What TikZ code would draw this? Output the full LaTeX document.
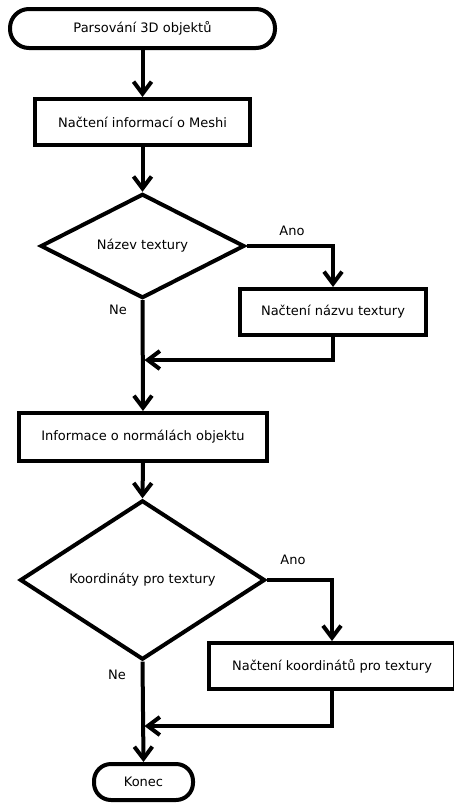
\documentclass[tikz,border=0pt]{standalone}
\usepackage{fontspec}
\setmainfont{DejaVu Sans}
\usetikzlibrary{shapes.geometric,arrows.meta}
\tikzset{
  every node/.style={font=\fontsize{13}{15}\selectfont},
  box/.style={draw,line width=4pt,rectangle,inner sep=0pt},
  term/.style={draw,line width=4pt,rectangle,inner sep=0pt},
  dec/.style={draw,line width=4pt,diamond,inner sep=0pt},
  conn/.style={line width=4pt,-{Straight Barb[length=12pt,width=18pt]}},
  lbl/.style={inner sep=0pt}
}
\begin{document}
\begin{tikzpicture}[x=1pt,y=-1pt]
\useasboundingbox (0,0) rectangle (454,803);
\node[term,minimum width=265pt,minimum height=39pt,rounded corners=19pt] (start) at (142.5,28.5) {Parsování 3D objektů};
\node[box,minimum width=215pt,minimum height=46pt] (b1) at (142.5,122) {Načtení informací o Meshi};
\node[dec,minimum width=204pt,minimum height=96pt] (d1) at (142.5,246) {Název textury};
\node[box,minimum width=186pt,minimum height=46pt] (b2) at (333,312) {Načtení názvu textury};
\node[box,minimum width=248pt,minimum height=48pt] (b3) at (143,437) {Informace o normálách objektu};
\node[dec,minimum width=245pt,minimum height=144pt] (d2) at (142.5,580) {Koordináty pro textury};
\node[box,minimum width=246pt,minimum height=46pt] (b4) at (332,666) {Načtení koordinátů pro textury};
\node[term,minimum width=99pt,minimum height=36pt,rounded corners=17pt] (end) at (143.5,782) {Konec};
\node[lbl] (ano1) at (292,231) {Ano};
\node[lbl] (ne1) at (118,310) {Ne};
\node[lbl] (ano2) at (293,560) {Ano};
\node[lbl] (ne2) at (117,675) {Ne};
\coordinate (m1) at (142.5,360);
\coordinate (m2) at (142.5,726);
\draw[conn] (start.south) -- (b1.north);
\draw[conn] (b1.south) -- (d1.north);
\draw[conn] (d1.east) -| (b2.north);
\draw[conn,shorten >=2pt] (b2.south) |- (m1);
\draw[conn] (d1.south) -- (b3.north);
\draw[conn] (b3.south) -- (d2.north);
\draw[conn] (d2.east) -| (b4.north);
\draw[conn,shorten >=2pt] (b4.south) |- (m2);
\draw[conn] (d2.south) -- (end.north);
\end{tikzpicture}
\end{document}
